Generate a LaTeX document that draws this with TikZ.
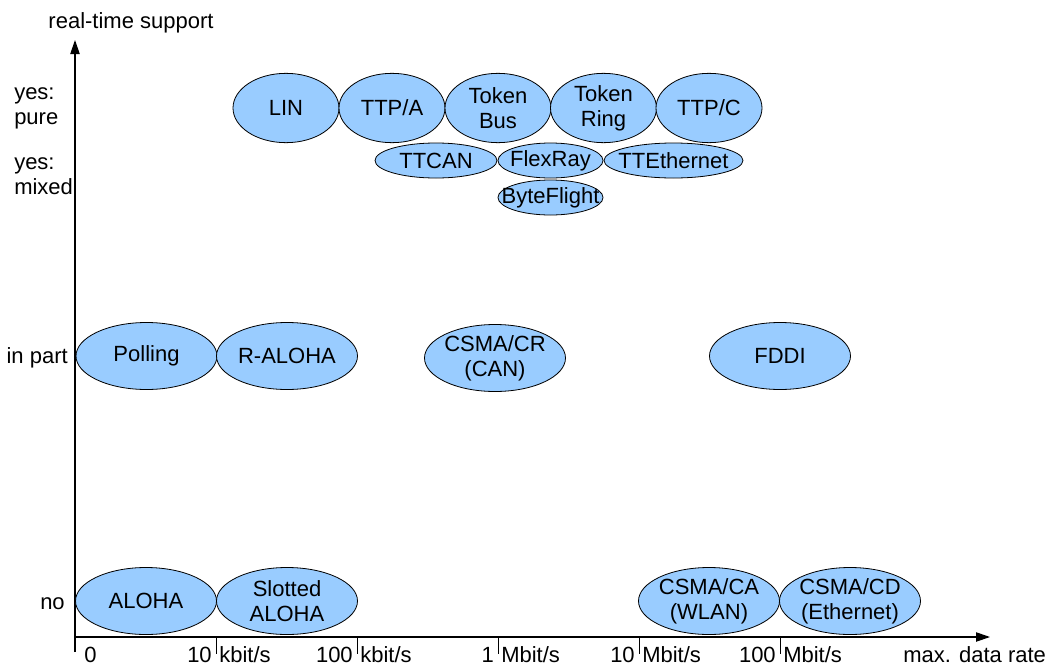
\documentclass[tikz,border=0pt]{standalone}
\usepackage{fontspec}
\setmainfont{Liberation Sans}
\usetikzlibrary{arrows.meta,shapes.geometric}
\definecolor{protofill}{HTML}{99CCFF}

\begin{document}
\begin{tikzpicture}[x=0.75pt,y=-0.75pt,every node/.style={font=\fontsize{16.5}{18.75}\selectfont}]
\tikzset{>={Triangle[length=10.5pt,width=7pt]},axis/.style={line width=0.9pt},
proto/.style={draw,ellipse,fill=protofill,line width=0.6pt,inner xsep=-10pt,inner ysep=-2pt,align=center},
big/.style={proto,minimum width=105.75pt,minimum height=50.25pt},
pure/.style={proto,minimum width=79.5pt,minimum height=52pt},
mixed/.style={proto,minimum height=26.25pt}}
\useasboundingbox (0,0) rectangle (1047,668);
\coordinate (O) at (75,637);
\draw[axis,->] (75,652) -- (75,40) coordinate (ymax);
\draw[axis,->] (O) -- (990,637) coordinate (xmax);
\node[anchor=base,inner sep=0pt] (ylabel) at (131,28) {real-time support};
\node[anchor=base west,inner sep=0pt] (xlabel) at (903,662) {max. data rate};
\node[anchor=base west,inner sep=0pt] (n0) at (84,662) {0};
\foreach \x/\n/\u in {216/10/k,357/100/k,498/1/M,639/10/M,780/100/M}{
  \draw[line width=0.6pt] (\x,637) -- (\x,654);
  \node[anchor=base east,inner sep=0pt] (n\x) at (\x-4,662) {\n};
  \node[anchor=base west,inner sep=0pt] (u\x) at (\x+3,662) {\u bit/s};
}
\node[anchor=west,align=left,inner sep=0pt] (lpure) at (14,108) {yes:\\pure};
\node[anchor=west,align=left,inner sep=0pt] (lmixed) at (14,176) {yes:\\mixed};
\node[anchor=base east,inner sep=0pt] (lpart) at (68,363) {in part};
\node[anchor=base east,inner sep=0pt] (lno) at (65,609) {no};

\node[pure] (lin) at (286,108) {LIN};
\node[pure] (ttpa) at (392,108) {TTP/A};
\node[pure] (tbus) at (498,108) {Token\\Bus};
\node[pure] (tring) at (603.5,108) {Token\\Ring};
\node[pure] (ttpc) at (709,108) {TTP/C};
\node[mixed,minimum width=91.5pt] (ttcan) at (436,160.5) {TTCAN};
\node[mixed,minimum width=78.75pt] (flexray) at (550.5,160.5) {FlexRay};
\node[mixed,minimum width=104.25pt] (tteth) at (673.5,160.5) {TTEthernet};
\node[mixed,minimum width=78.75pt] (byteflight) at (550.5,197.5) {ByteFlight};

\node[big] (polling) at (146.5,356) {Polling};
\node[big] (raloha) at (287,356) {R-ALOHA};
\node[big] (csmacr) at (495,358) {CSMA/CR\\(CAN)};
\node[big] (fddi) at (780,356) {FDDI};

\node[big] (aloha) at (146,601) {ALOHA};
\node[big] (saloha) at (287,601) {Slotted\\ALOHA};
\node[big] (csmaca) at (709,601) {CSMA/CA\\(WLAN)};
\node[big] (csmacd) at (850,601) {CSMA/CD\\(Ethernet)};
\end{tikzpicture}
\end{document}
